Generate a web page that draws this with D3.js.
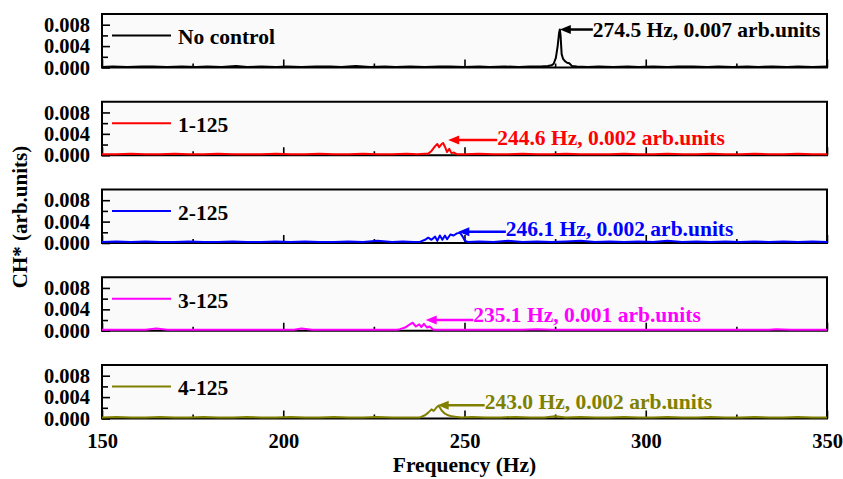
<!DOCTYPE html>
<html><head><meta charset="utf-8">
<script src="https://cdn.jsdelivr.net/npm/d3@7"></script>
<style>body{margin:0;background:#fff}svg text{font-family:"Liberation Serif","Times New Roman",serif;font-weight:bold}</style>
</head><body><svg id="c" width="843" height="479"></svg>
<script>
// ---- data ----
const xTicks = [150, 200, 250, 300, 350];
const xMinorTicks = [175, 225, 275, 325];
const yTicks = [0, 0.004, 0.008];
const yMinorTicks = [0.002, 0.006];
const seriesNames = ["No control", "1-125", "2-125", "3-125", "4-125"];
const seriesColors = ["#000000", "#ff0000", "#0000ff", "#ff00ff", "#808000"];

const noControl = [[150,0.0001],[153,0.0002],[157,0.0001],[161,0.0002],[164,0.0002],[168,0.0001],[172,0.0002],[176,0.0001],[179,0.0002],[183,0.0001],[187,0.0003],[190,0.0001],[194,0.0002],[198,0.0001],[201,0.0002],[205,0.0001],[209,0.0002],[213,0.0002],[216,0.0001],[220,0.0003],[224,0.0001],[228,0.0002],[231,0.0001],[235,0.0002],[239,0.0001],[243,0.0002],[246,0.0002],[250,0.0001],[254,0.0002],[257,0.0001],[261,0.0002],[265,0.0001],[268,0.0002],[271,0.0002],[273,0.0003],[274,0.0004],[274.6,0.0007],[275.2,0.0018],[275.7,0.0040],[276.1,0.0065],[276.3,0.0071],[276.5,0.0060],[276.8,0.0025],[277.2,0.0016],[277.7,0.0012],[278.3,0.0009],[278.9,0.0008],[279.6,0.0003],[281,0.0002],[284,0.0001],[287,0.0002],[291,0.0001],[295,0.0002],[298,0.0001],[302,0.0002],[306,0.0001],[309,0.0002],[313,0.0002],[317,0.0001],[320,0.0002],[324,0.0001],[328,0.0002],[331,0.0001],[335,0.0002],[339,0.0001],[342,0.0002],[346,0.0001],[350,0.0002]];

const s1_125 = [[150,0.0002],[154,0.0002],[158,0.0003],[162,0.0002],[166,0.0002],[170,0.0003],[174,0.0002],[178,0.0002],[182,0.0003],[186,0.0002],[190,0.0002],[194,0.0002],[198,0.0003],[202,0.0002],[206,0.0002],[210,0.0003],[214,0.0002],[218,0.0002],[222,0.0003],[226,0.0002],[230,0.0002],[234,0.0003],[237,0.0002],[239,0.0003],[240,0.0003],[240.9,0.0008],[241.9,0.0017],[242.5,0.0021],[243.0,0.0015],[243.7,0.0021],[244.1,0.0023],[244.6,0.0016],[245.2,0.0006],[245.8,0.0012],[246.4,0.0004],[247.1,0.0005],[247.8,0.0002],[250,0.0002],[254,0.0003],[258,0.0002],[262,0.0002],[266,0.0003],[270,0.0002],[274,0.0002],[278,0.0003],[282,0.0002],[286,0.0002],[290,0.0002],[294,0.0003],[298,0.0002],[302,0.0002],[306,0.0003],[310,0.0002],[314,0.0002],[318,0.0003],[322,0.0002],[326,0.0002],[330,0.0003],[334,0.0002],[338,0.0002],[342,0.0003],[346,0.0002],[350,0.0002]];

const s2_125 = [[150,0.0002],[154,0.0003],[158,0.0002],[162,0.0003],[166,0.0002],[170,0.0002],[174,0.0003],[178,0.0002],[182,0.0002],[186,0.0003],[190,0.0002],[194,0.0002],[198,0.0003],[202,0.0002],[206,0.0003],[210,0.0002],[214,0.0002],[218,0.0003],[222,0.0002],[226,0.0004],[230,0.0002],[233,0.0003],[236,0.0002],[237.7,0.0002],[239.1,0.0006],[240.0,0.0010],[240.9,0.0006],[241.9,0.0012],[242.5,0.0004],[243.2,0.0014],[243.9,0.0006],[244.6,0.0014],[245.2,0.0007],[246.1,0.0016],[247.0,0.0014],[247.9,0.0018],[248.8,0.0019],[249.5,0.0012],[250.1,0.0004],[251.0,0.0002],[254,0.0003],[258,0.0002],[262,0.0004],[266,0.0002],[270,0.0003],[274,0.0002],[278,0.0003],[282,0.0004],[286,0.0002],[290,0.0003],[294,0.0002],[298,0.0003],[302,0.0002],[306,0.0004],[310,0.0002],[314,0.0003],[318,0.0002],[322,0.0003],[326,0.0002],[330,0.0003],[334,0.0002],[338,0.0003],[342,0.0002],[346,0.0003],[350,0.0002]];

const s3_125 = [[150,0.0002],[154,0.0002],[158,0.0002],[162,0.0002],[165,0.0004],[168,0.0002],[172,0.0002],[176,0.0002],[180,0.0002],[184,0.0002],[188,0.0002],[192,0.0002],[196,0.0002],[200,0.0002],[203,0.0002],[205,0.0004],[208,0.0002],[212,0.0002],[216,0.0002],[220,0.0002],[224,0.0002],[228,0.0002],[231.3,0.0002],[232.2,0.0003],[233.6,0.0006],[234.5,0.0010],[235.7,0.0015],[236.6,0.0008],[237.5,0.0012],[238.1,0.0007],[238.8,0.0013],[239.7,0.0006],[240.4,0.0008],[241.4,0.0002],[242.7,0.0002],[246,0.0002],[250,0.0002],[254,0.0002],[258,0.0002],[262,0.0002],[266,0.0002],[270,0.0003],[274,0.0002],[278,0.0002],[282,0.0002],[286,0.0002],[290,0.0002],[294,0.0002],[298,0.0002],[302,0.0002],[306,0.0002],[310,0.0002],[314,0.0002],[318,0.0002],[322,0.0002],[326,0.0002],[330,0.0002],[334,0.0002],[336,0.0003],[340,0.0002],[344,0.0002],[350,0.0002]];

const s4_125 = [[150,0.0002],[154,0.0003],[158,0.0002],[162,0.0002],[166,0.0003],[170,0.0002],[174,0.0002],[178,0.0003],[182,0.0002],[186,0.0002],[190,0.0003],[194,0.0002],[198,0.0002],[202,0.0003],[206,0.0002],[210,0.0002],[214,0.0003],[218,0.0002],[222,0.0002],[226,0.0003],[230,0.0002],[234,0.0002],[235.9,0.0002],[237.7,0.0002],[239.1,0.0006],[240.0,0.0011],[240.9,0.0017],[241.5,0.0014],[242.3,0.0021],[242.9,0.0024],[243.7,0.0015],[244.6,0.0009],[245.5,0.0006],[246.5,0.0004],[247.8,0.0003],[249.2,0.0002],[252,0.0003],[256,0.0002],[260,0.0002],[264,0.0003],[268,0.0002],[272,0.0002],[275,0.0004],[278,0.0002],[282,0.0003],[286,0.0002],[290,0.0002],[294,0.0003],[298,0.0002],[302,0.0002],[306,0.0003],[310,0.0002],[314,0.0002],[318,0.0003],[322,0.0002],[326,0.0002],[330,0.0003],[334,0.0002],[338,0.0002],[342,0.0003],[346,0.0002],[350,0.0002]];

const seriesData = [noControl, s1_125, s2_125, s3_125, s4_125];

// annotation tip (frequency, value) and text
const annotTexts = ["274.5 Hz, 0.007 arb.units", "244.6 Hz, 0.002 arb.units", "246.1 Hz, 0.002 arb.units", "235.1 Hz, 0.001 arb.units", "243.0 Hz, 0.002 arb.units"];
const annotFreq = [276.3, 245.5, 248.3, 239.3, 242.6];
const annotValue = [0.0071, 0.00285, 0.0021, 0.002, 0.0025];

// ---- layout ----
const left = 102, right = 827;
const panelTop0 = 14, panelH = 53.5, panelStep = 87.75;
const annotDx = [33, 49, 47.5, 47.5, 47];
const annotDy = [7.5, 5, 4.5, 2, 4];

const svg = d3.select("#c");
const x = d3.scaleLinear().domain([150, 350]).range([left, right]);

seriesData.forEach((data, i) => {
  const top = panelTop0 + i * panelStep;
  const bottom = top + panelH;
  const y = d3.scaleLinear().domain([0, 0.01]).range([bottom, top]);
  const color = seriesColors[i];
  const g = svg.append("g");

  g.append("rect").attr("x", left).attr("y", top).attr("width", right - left).attr("height", panelH)
    .attr("fill", "#fafafa");

  const xa = g.append("g").attr("transform", `translate(0,${bottom})`)
    .call(d3.axisBottom(x).tickValues(xTicks).tickSize(-8).tickPadding(14.5)
      .tickFormat(i === 4 ? d3.format("d") : ""));
  const xm = g.append("g").attr("transform", `translate(0,${bottom})`)
    .call(d3.axisBottom(x).tickValues(xMinorTicks).tickSize(-4).tickFormat(""));
  const ya = g.append("g").attr("transform", `translate(${left},0)`)
    .call(d3.axisLeft(y).tickValues(yTicks).tickSize(-8).tickPadding(12).tickFormat(d3.format(".3f")));
  const ym = g.append("g").attr("transform", `translate(${left},0)`)
    .call(d3.axisLeft(y).tickValues(yMinorTicks).tickSize(-6).tickFormat(""));
  [xa, xm, ya, ym].forEach(a => {
    a.select(".domain").remove();
    a.selectAll(".tick line").attr("stroke", "#000").attr("stroke-width", 1.6);
    a.selectAll(".tick text").attr("fill", "#000").style("font-size", "20.5px")
      .style("font-family", '"Liberation Serif", serif').style("font-weight", "bold");
  });

  g.append("rect").attr("x", left).attr("y", top).attr("width", right - left).attr("height", panelH)
    .attr("fill", "none").attr("stroke", "#000").attr("stroke-width", 2);

  g.append("path").datum(data)
    .attr("d", d3.line().x(d => x(d[0])).y(d => y(d[1])))
    .attr("fill", "none").attr("stroke", color).attr("stroke-width", 2).attr("stroke-linejoin", "round");

  const ly = y(0.006);
  g.append("line").attr("x1", 112).attr("x2", 171).attr("y1", ly).attr("y2", ly)
    .attr("stroke", color).attr("stroke-width", 2);
  g.append("text").attr("x", 178).attr("y", ly + 9).attr("fill", "#000")
    .style("font-size", "21.5px").text(seriesNames[i]);

  const tx = x(annotFreq[i]), ty = y(annotValue[i]);
  const ex = tx + annotDx[i];
  g.append("line").attr("x1", tx + 8).attr("x2", ex).attr("y1", ty).attr("y2", ty)
    .attr("stroke", color).attr("stroke-width", 2.5);
  g.append("path").attr("d", `M${tx},${ty} L${tx + 11},${ty - 4.5} L${tx + 11},${ty + 4.5} Z`)
    .attr("fill", color);
  g.append("text").attr("x", ex).attr("y", ty + annotDy[i]).attr("fill", color)
    .style("font-size", "21.5px").text(annotTexts[i]);
});

svg.append("text").attr("x", (left + right) / 2).attr("y", 472).attr("text-anchor", "middle")
  .style("font-size", "21.5px").text("Frequency (Hz)");
svg.append("text").attr("transform", "translate(27,217) rotate(-90)").attr("text-anchor", "middle")
  .style("font-size", "21px").text("CH* (arb.units)");
</script></body></html>
